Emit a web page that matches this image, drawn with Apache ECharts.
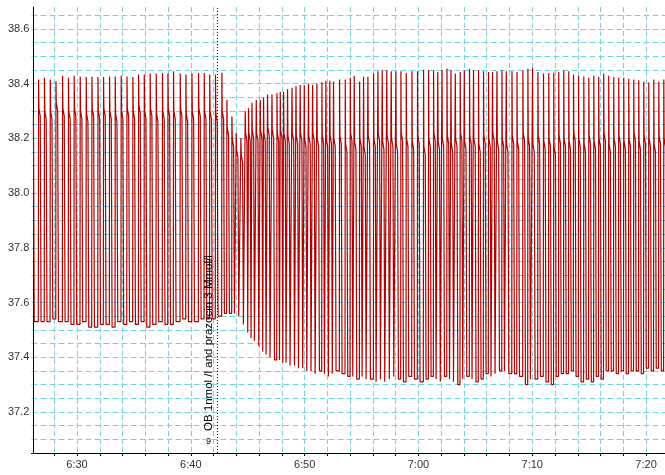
<!DOCTYPE html>
<html><head><meta charset="utf-8">
<script src="https://cdn.jsdelivr.net/npm/echarts@6/dist/echarts.min.js"></script>
<style>html,body{margin:0;padding:0;background:#fff}#c{width:665px;height:475px}</style>
</head><body><div id="c"></div>
<script>
// time in minutes after 6:00
const startTime = 26.17;
const startLevel = 38.28;
const cycleTimes = [
 26.60,27.12,27.63,28.13,28.71,29.23,29.73,30.26,30.79,31.29,31.82,32.31,32.84,33.34,33.86,34.37,34.89,35.39,35.89,36.41,36.94,37.49,37.97,38.46,39.05,39.55,40.08,40.66,41.16,41.64,42.15,42.71,
 43.15,43.59,43.97,44.38,44.76,45.05,45.35,45.73,46.08,46.37,46.72,47.11,47.55,47.84,48.13,48.48,48.87,49.22,49.59,49.95,50.32,50.68,51.06,51.50,51.85,52.19,
 52.52,53.05,53.55,53.99,54.34,54.81,55.16,55.54,56.04,56.42,56.80,57.20,57.59,58.00,58.44,58.91,59.41,59.90,60.43,60.87,61.31,61.68,62.05,62.49,62.84,63.22,63.65,64.01,64.47,64.82,65.26,65.70,66.14,66.49,66.88,
 67.32,67.70,68.20,68.64,69.16,69.60,70.01,70.48,70.97,71.43,71.87,72.31,72.75,73.19,73.61,74.05,74.51,74.95,75.39,75.82,76.26,76.70,77.14,77.58,78.02,78.46,78.90,79.34,79.78,80.22,80.66,81.10,81.54
];
const peakVals = [
 38.415,38.421,38.415,38.409,38.429,38.421,38.429,38.426,38.424,38.426,38.424,38.424,38.426,38.426,38.429,38.426,38.424,38.433,38.433,38.437,38.437,38.439,38.437,38.445,38.437,38.433,38.437,38.439,38.439,38.433,38.433,38.440,
 38.34,38.28,38.22,38.20,38.30,38.31,38.33,38.34,38.34,38.35,38.36,38.36,38.365,38.37,38.37,38.38,38.385,38.39,38.395,38.395,38.40,38.395,38.40,38.405,38.41,38.41,
 38.408,38.415,38.415,38.421,38.429,38.408,38.425,38.425,38.437,38.445,38.449,38.449,38.445,38.445,38.445,38.439,38.445,38.445,38.451,38.449,38.449,38.442,38.451,38.454,38.451,38.437,38.442,38.449,38.454,38.449,38.449,38.445,38.442,38.442,38.445,
 38.449,38.445,38.445,38.442,38.449,38.454,38.458,38.442,38.437,38.439,38.441,38.442,38.449,38.445,38.433,38.429,38.426,38.421,38.429,38.424,38.437,38.429,38.424,38.421,38.421,38.418,38.415,38.412,38.408,38.404,38.415,38.408,38.415
];
const shoulderVals = [
 38.31,38.30,38.30,38.33,38.31,38.30,38.31,38.30,38.29,38.31,38.30,38.31,38.30,38.29,38.30,38.31,38.30,38.32,38.30,38.31,38.29,38.30,38.31,38.30,38.31,38.29,38.30,38.31,38.30,38.30,38.29,38.30,
 38.24,38.20,38.16,38.14,38.22,38.22,38.23,38.22,38.23,38.22,38.24,38.23,38.22,38.23,38.22,38.21,38.22,38.21,38.22,38.20,38.21,38.22,38.20,38.21,38.20,38.21,
 38.20,38.21,38.18,38.22,38.19,38.20,38.17,38.21,38.20,38.22,38.19,38.21,38.20,38.18,38.22,38.20,38.19,38.21,38.17,38.20,38.22,38.19,38.20,38.21,38.18,38.20,38.22,38.19,38.21,38.20,38.18,38.21,38.20,38.22,38.19,
 38.20,38.18,38.21,38.19,38.22,38.20,38.18,38.21,38.19,38.20,38.17,38.21,38.20,38.19,38.22,38.20,38.18,38.21,38.19,38.20,38.22,38.18,38.20,38.21,38.19,38.20,38.22,38.19,38.21,38.20,38.18,38.21,38.20
];
const troughVals = [
 37.53,37.53,37.54,37.53,37.53,37.52,37.52,37.53,37.51,37.51,37.52,37.52,37.51,37.53,37.52,37.53,37.52,37.53,37.51,37.52,37.53,37.52,37.52,37.53,37.54,37.53,37.53,37.54,37.54,37.54,37.55,37.56,
 37.56,37.56,37.55,37.52,37.49,37.47,37.46,37.44,37.42,37.41,37.40,37.39,37.39,37.38,37.38,37.37,37.37,37.36,37.36,37.35,37.35,37.34,37.35,37.34,37.33,37.34,
 37.35,37.34,37.33,37.33,37.32,37.33,37.32,37.32,37.31,37.32,37.31,37.32,37.33,37.32,37.31,37.33,37.32,37.31,37.32,37.33,37.32,37.31,37.33,37.32,37.31,37.30,37.32,37.33,37.32,37.31,37.32,37.34,37.33,37.34,37.35,
 37.35,37.34,37.34,37.33,37.30,37.32,37.32,37.33,37.31,37.30,37.33,37.34,37.34,37.35,37.33,37.31,37.32,37.31,37.33,37.32,37.35,37.35,37.34,37.35,37.34,37.35,37.35,37.34,37.36,37.35,37.36,37.35,37.36
];
const xLabelMinutes = [30, 40, 50, 60, 70, 80];
const xTickLabels = ['6:30', '6:40', '6:50', '7:00', '7:10', '7:20'];
const yTickValues = [37.2, 37.4, 37.6, 37.8, 38.0, 38.2, 38.4, 38.6];
const yTickLabels = ['37.2', '37.4', '37.6', '37.8', '38.0', '38.2', '38.4', '38.6'];
const eventTime = 42.30;
const eventLabel = 'OB 1nmol /l and prazocin 3 Mmol/l';
const eventNote = '9';

// build the trace: each cycle = quick rise, peak, shoulder plateau, fall to trough
const pts = [[startTime, startLevel], [startTime + 0.07, troughVals[0]]];
let prev = troughVals[0];
for (let i = 0; i < cycleTimes.length; i++) {
  const t = cycleTimes[i];
  pts.push([t, prev]);
  pts.push([t + 0.02, peakVals[i]]);
  pts.push([t + 0.05, shoulderVals[i]]);
  pts.push([t + 0.17, shoulderVals[i] - 0.03]);
  pts.push([t + 0.24, troughVals[i]]);
  prev = troughVals[i];
}

const gridColor = '#72d4dd';
const font = 'Liberation Sans';
const chart = echarts.init(document.getElementById('c'), null, {renderer: 'canvas'});
chart.setOption({
  animation: false,
  backgroundColor: '#fff',
  grid: {left: 31.5, right: -3.8, top: 7, bottom: 22, containLabel: false, outerBoundsMode: 'none'},
  xAxis: {
    type: 'value', min: 26, max: 82, interval: 2,
    axisLine: {show: true, onZero: false, lineStyle: {color: '#000', width: 1}},
    axisTick: {show: true, length: 3, lineStyle: {color: '#000'}},
    axisLabel: {
      margin: 6, color: '#333', fontSize: 11, fontFamily: font, showMinLabel: false,
      formatter: v => { const k = xLabelMinutes.findIndex(m => Math.abs(m - v) < 1e-6); return k >= 0 ? xTickLabels[k] : ''; }
    },
    splitLine: {show: true, showMinLine: false, lineStyle: {color: gridColor, type: [5, 3], width: 1}}
  },
  yAxis: {
    type: 'value', min: 37.05, max: 38.68, interval: 0.05, offset: -1.8,
    axisLine: {show: true, onZero: false, lineStyle: {color: '#000', width: 1}},
    axisTick: {show: false},
    axisLabel: {
      margin: 4, color: '#333', fontSize: 11, fontFamily: font,
      formatter: v => { const k = yTickValues.findIndex(m => Math.abs(m - v) < 1e-6); return k >= 0 ? yTickLabels[k] : ''; }
    },
    splitLine: {show: true, showMaxLine: false, lineStyle: {color: gridColor, type: [6, 3], width: 1}}
  },
  series: [{
    type: 'line', data: pts, showSymbol: false, symbol: 'none', sampling: null,
    lineStyle: {color: '#b00000', width: 1.2}, z: 3,
    markLine: {
      silent: true, symbol: 'none', animation: false,
      lineStyle: {color: '#000', type: [1, 2], width: 1},
      label: {show: true, position: 'insideStartTop', distance: [22, 2], color: '#000', fontSize: 11.5, fontFamily: font, formatter: eventLabel},
      data: [{xAxis: eventTime}]
    }
  }],
  graphic: [{type: 'text', left: 206, top: 437, style: {text: eventNote, fontSize: 9, fill: '#000', fontFamily: font}}]
});
</script></body></html>
